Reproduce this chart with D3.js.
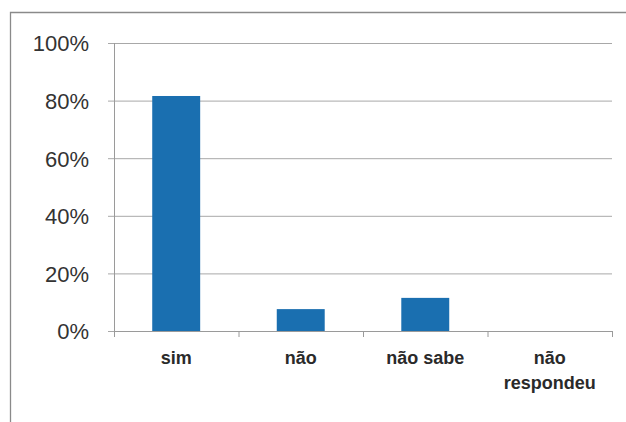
<!DOCTYPE html>
<html><head><meta charset="utf-8">
<script src="https://cdn.jsdelivr.net/npm/d3@7"></script>
<style>body{margin:0;background:#fff}svg{display:block}</style>
</head><body>
<script>
const categories = [["sim"], ["não"], ["não sabe"], ["não", "respondeu"]];
const values = [81.6, 7.6, 11.5, 0];
const yTicks = [0, 20, 40, 60, 80, 100];

(function () {
const W = 626, H = 422;
const svg = d3.select("body").append("svg").attr("width", W).attr("height", H);

// outer frame
svg.append("path").attr("d", "M10.5,422 V12.5 H626").attr("fill", "none")
  .attr("stroke", "#8a8a8a").attr("stroke-width", 1.3);

const pL = 114, pR = 612, pT = 43, pB = 331;
const x = d3.scaleBand().domain(d3.range(categories.length)).range([pL, pR]).paddingInner(0.615).paddingOuter(0.307);
const y = d3.scaleLinear().domain([0, 100]).range([pB, pT]);

// gridlines + y ticks
const yAxis = d3.axisLeft(y).tickValues(yTicks).tickSize(-(pR - pL)).tickFormat(d => d + "%").tickPadding(25);
const gy = svg.append("g").attr("transform", `translate(${pL},0)`).call(yAxis);
gy.select(".domain").remove();
gy.selectAll(".tick line").attr("stroke", "#a8a8a8").attr("stroke-width", 1).attr("x1", -6);
gy.selectAll(".tick text").attr("font-family", "Liberation Sans, Arial, sans-serif").attr("font-size", 22)
  .attr("fill", "#333").attr("dy", "0.36em");

// left axis line
svg.append("line").attr("x1", pL + 0.5).attr("x2", pL + 0.5).attr("y1", pT).attr("y2", pB)
  .attr("stroke", "#9a9a9a");

// bars
svg.selectAll("rect.bar").data(values).join("rect").attr("class", "bar")
  .attr("x", (d, i) => x(i)).attr("width", x.bandwidth())
  .attr("y", d => y(d)).attr("height", d => y(0) - y(d))
  .attr("fill", "#1a6fb0");

// x axis baseline and category ticks
const step = (pR - pL) / categories.length;
svg.append("line").attr("x1", pL).attr("x2", pR).attr("y1", pB + 0.5).attr("y2", pB + 0.5).attr("stroke", "#9a9a9a");
svg.selectAll("line.ctick").data(d3.range(categories.length + 1)).join("line").attr("class", "ctick")
  .attr("x1", i => pL + i * step + 0.5).attr("x2", i => pL + i * step + 0.5)
  .attr("y1", pB).attr("y2", pB + 6).attr("stroke", "#9a9a9a");

// category labels
const lab = svg.selectAll("text.cat").data(categories).join("text").attr("class", "cat")
  .attr("text-anchor", "middle").attr("font-family", "Liberation Sans, Arial, sans-serif")
  .attr("font-size", 18).attr("font-weight", "bold").attr("fill", "#2a2a2a");
lab.each(function(lines, i) {
  const t = d3.select(this);
  lines.forEach((s, k) => {
    t.append("tspan").attr("x", x(i) + x.bandwidth() / 2).attr("y", 364 + k * 25).text(s);
  });
});
})();
</script>
</body></html>
